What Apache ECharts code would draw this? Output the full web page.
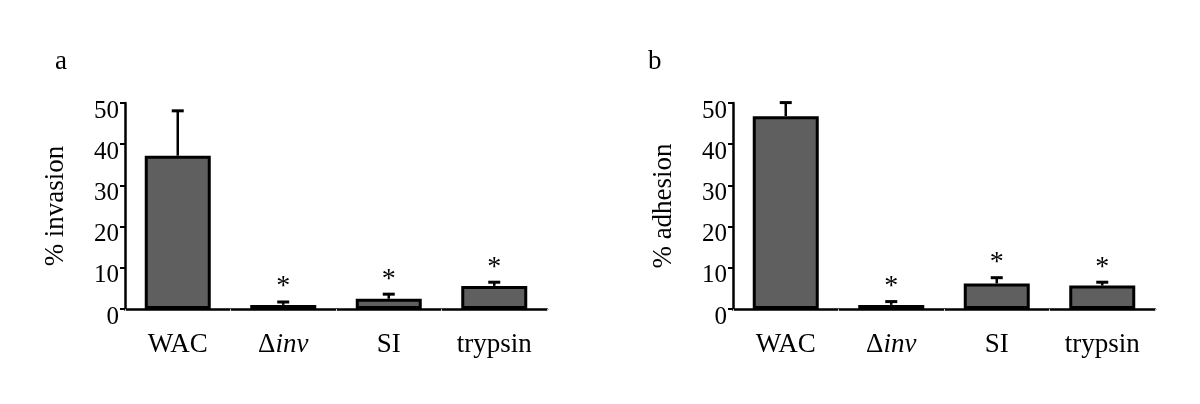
<!DOCTYPE html>
<html>
<head>
<meta charset="utf-8">
<script src="https://cdn.jsdelivr.net/npm/echarts@6/dist/echarts.min.js"></script>
<style>
    html, body { margin: 0; padding: 0; background: #fff; }
    #chart { width: 1200px; height: 404px; }
</style>
</head>
<body>
<div id="chart"></div>
<script>
// data
const categories = ['WAC', 'Δinv', 'SI', 'trypsin']
const invasionMean = [37.2, 1.0, 2.5, 5.6]
const invasionErr = [10.9, 0.7, 1.1, 0.9]
const adhesionMean = [46.8, 1.0, 6.2, 5.7]
const adhesionErr = [3.3, 0.8, 1.4, 0.8]
const significant = [false, true, true, true]
const yTicks = { min: 0, max: 50, interval: 10 }

const FONT = 'Liberation Serif'
const BAR_COLOR = '#5f5f5f'

function xAxisFor(gridIndex) {
    return {
        type: 'category',
        gridIndex: gridIndex,
        data: categories,
        axisLine: { lineStyle: { color: '#000', width: 2.5 } },
        axisTick: { show: true, length: 2, lineStyle: { color: '#ccc', width: 1 } },
        axisLabel: {
            interval: 0,
            margin: 22,
            fontFamily: FONT,
            fontSize: 27,
            color: '#000',
            formatter: function (v) {
                return v === 'Δinv' ? '{n|Δ}{i|inv}' : v
            },
            rich: {
                n: { fontFamily: FONT, fontSize: 27, color: '#000' },
                i: { fontFamily: FONT, fontSize: 27, fontStyle: 'italic', color: '#000' }
            }
        }
    }
}

function yAxisFor(gridIndex, title) {
    return {
        type: 'value',
        gridIndex: gridIndex,
        min: yTicks.min,
        max: yTicks.max,
        interval: yTicks.interval,
        name: title,
        nameLocation: 'middle',
        nameGap: 56,
        nameTextStyle: { fontFamily: FONT, fontSize: 27, color: '#000' },
        splitLine: { show: false },
        axisLine: { show: true, lineStyle: { color: '#000', width: 2.5 } },
        axisTick: { show: true, length: 5, lineStyle: { color: '#000', width: 2 } },
        axisLabel: {
            margin: 6,
            verticalAlign: 'top',
            lineHeight: 16,
            fontFamily: FONT,
            fontSize: 25,
            color: '#000'
        }
    }
}

// error bar + significance star
function errorSeries(axisIndex, means, errs) {
    return {
        type: 'custom',
        xAxisIndex: axisIndex,
        yAxisIndex: axisIndex,
        z: 1,
        data: means.map((m, i) => [i, m, m + errs[i], significant[i] ? 1 : 0]),
        renderItem: function (params, api) {
            const base = api.coord([api.value(0), api.value(1)])
            const top = api.coord([api.value(0), api.value(2)])
            const children = [
                {
                    type: 'line',
                    shape: { x1: base[0], y1: base[1], x2: top[0], y2: top[1] },
                    style: { stroke: '#000', lineWidth: 2.5 }
                },
                {
                    type: 'line',
                    shape: { x1: top[0] - 6, y1: top[1], x2: top[0] + 6, y2: top[1] },
                    style: { stroke: '#000', lineWidth: 3 }
                }
            ]
            if (api.value(3)) {
                children.push({
                    type: 'text',
                    style: {
                        x: top[0],
                        y: top[1] - 15,
                        text: '*',
                        textAlign: 'center',
                        textVerticalAlign: 'middle',
                        font: '28px "' + FONT + '"',
                        fill: '#000'
                    }
                })
            }
            return { type: 'group', children: children }
        }
    }
}

function barSeries(axisIndex, means) {
    return {
        type: 'bar',
        xAxisIndex: axisIndex,
        yAxisIndex: axisIndex,
        data: means,
        barWidth: 66,
        z: 2,
        itemStyle: { color: BAR_COLOR, borderColor: '#000', borderWidth: 3 }
    }
}

const chart = echarts.init(document.getElementById('chart'))
chart.setOption({
    animation: false,
    backgroundColor: '#fff',
    title: [
        { text: 'a', left: 50, top: 43, textStyle: { fontFamily: FONT, fontSize: 27, fontWeight: 'normal', color: '#000' } },
        { text: 'b', left: 643, top: 43, textStyle: { fontFamily: FONT, fontSize: 27, fontWeight: 'normal', color: '#000' } }
    ],
    grid: [
        { left: 125, right: 653, top: 103, bottom: 95 },
        { left: 733, right: 45, top: 103, bottom: 95 }
    ],
    xAxis: [xAxisFor(0), xAxisFor(1)],
    yAxis: [yAxisFor(0, '% invasion'), yAxisFor(1, '% adhesion')],
    series: [
        errorSeries(0, invasionMean, invasionErr),
        barSeries(0, invasionMean),
        errorSeries(1, adhesionMean, adhesionErr),
        barSeries(1, adhesionMean)
    ]
})
</script>
</body>
</html>
